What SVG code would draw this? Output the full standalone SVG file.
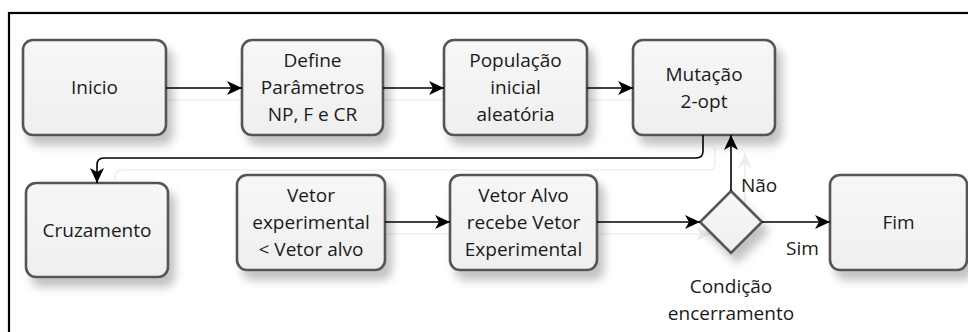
<svg xmlns="http://www.w3.org/2000/svg" width="968" height="332" viewBox="0 0 968 332">
<style>
.node rect, .node polygon { fill: url(#g); stroke: #555555; stroke-width: 2.6; }
.t { font-family: "Open Sans", "Noto Sans", sans-serif; font-size: 19px; fill: #1a1a1a; text-anchor: middle; }
.lbl { font-family: "Open Sans", "Noto Sans", sans-serif; font-size: 19px; fill: #1a1a1a; }
.c { fill: none; stroke: #000; stroke-width: 1.6; }
.cs { fill: none; stroke: #efefef; stroke-width: 1.6; }
</style>
<defs>
<linearGradient id="g" x1="0" y1="0" x2="0" y2="1">
<stop offset="0" stop-color="#f7f7f7"/>
<stop offset="1" stop-color="#efefef"/>
</linearGradient>
<filter id="sh" x="-20%" y="-20%" width="150%" height="160%">
<feDropShadow dx="6" dy="9" stdDeviation="5" flood-color="#000" flood-opacity="0.24"/>
</filter>
<marker id="a" markerUnits="userSpaceOnUse" markerWidth="16" markerHeight="16" viewBox="0 0 16 16" refX="15" refY="8" orient="auto">
<path d="M0,1 L15,8 L0,15 L4,8 z" fill="#000"/>
</marker>
<marker id="as" markerUnits="userSpaceOnUse" markerWidth="16" markerHeight="16" viewBox="0 0 16 16" refX="15" refY="8" orient="auto">
<path d="M0,1 L15,8 L0,15 L4,8 z" fill="#ececec"/>
</marker>
</defs>
<rect x="0" y="0" width="968" height="332" fill="#fff"/>
<rect x="9" y="13" width="975" height="335" fill="none" stroke="#000" stroke-width="2.2"/>

<g id="connector-shadows">
<path class="cs" d="M166,100 H254" marker-end="url(#as)"/>
<path class="cs" d="M383,100 H456" marker-end="url(#as)"/>
<path class="cs" d="M587,100 H645" marker-end="url(#as)"/>
<path class="cs" d="M715,147 V163 Q715,170 708,170 H122 Q115,170 115,177 V184"/>
<path class="cs" d="M385,234 H462"/>
<path class="cs" d="M597,234 H711" marker-end="url(#as)"/>
<path class="cs" d="M745,204 V153" marker-end="url(#as)"/>
</g>

<g id="n-inicio" class="node"><rect x="23" y="40" width="143" height="95" rx="10" filter="url(#sh)"/><text class="t" x="94.5" y="94">Inicio</text></g>
<g id="n-define" class="node"><rect x="242" y="40" width="141" height="95" rx="10" filter="url(#sh)"/><text class="t" x="312.5" y="67">Define</text><text class="t" x="312.5" y="94">Parâmetros</text><text class="t" x="312.5" y="121">NP, F e CR</text></g>
<g id="n-populacao" class="node"><rect x="444" y="40" width="143" height="95" rx="10" filter="url(#sh)"/><text class="t" x="515.5" y="67">População</text><text class="t" x="515.5" y="94">inicial</text><text class="t" x="515.5" y="121">aleatória</text></g>
<g id="n-mutacao" class="node"><rect x="633" y="40" width="142" height="95" rx="10" filter="url(#sh)"/><text class="t" x="704" y="81">Mutação</text><text class="t" x="704" y="108">2-opt</text></g>
<g id="n-cruzamento" class="node"><rect x="26" y="183" width="142" height="94" rx="10" filter="url(#sh)"/><text class="t" x="97" y="237">Cruzamento</text></g>
<g id="n-vetorexp" class="node"><rect x="237" y="175" width="148" height="95" rx="10" filter="url(#sh)"/><text class="t" x="311" y="202">Vetor</text><text class="t" x="311" y="229">experimental</text><text class="t" x="311" y="256">&lt; Vetor alvo</text></g>
<g id="n-vetoralvo" class="node"><rect x="450" y="175" width="147" height="95" rx="10" filter="url(#sh)"/><text class="t" x="523.5" y="202">Vetor Alvo</text><text class="t" x="523.5" y="229">recebe Vetor</text><text class="t" x="523.5" y="256">Experimental</text></g>
<g id="n-condicao" class="node"><polygon points="731,191 762,222 731,253 700,222" filter="url(#sh)"/><text class="t" x="731" y="293">Condição</text><text class="t" x="731" y="320">encerramento</text></g>
<g id="n-fim" class="node"><rect x="830" y="175" width="137" height="95" rx="10" filter="url(#sh)"/><text class="t" x="898.5" y="229">Fim</text></g>

<g id="connectors">
<path class="c" d="M166,88 H242" marker-end="url(#a)"/>
<path class="c" d="M383,88 H444" marker-end="url(#a)"/>
<path class="c" d="M587,88 H633" marker-end="url(#a)"/>
<path class="c" d="M703,135 V151 Q703,158 696,158 H104 Q97,158 97,165 V183" marker-end="url(#a)"/>
<path class="c" d="M385,222 H450" marker-end="url(#a)"/>
<path class="c" d="M597,222 H700" marker-end="url(#a)"/>
<path class="c" d="M762,222 H830" marker-end="url(#a)"/>
<path class="c" d="M731,191 V135" marker-end="url(#a)"/>
<text class="lbl" x="741" y="192">Não</text>
<text class="lbl" x="786" y="255">Sim</text>
</g>
</svg>
